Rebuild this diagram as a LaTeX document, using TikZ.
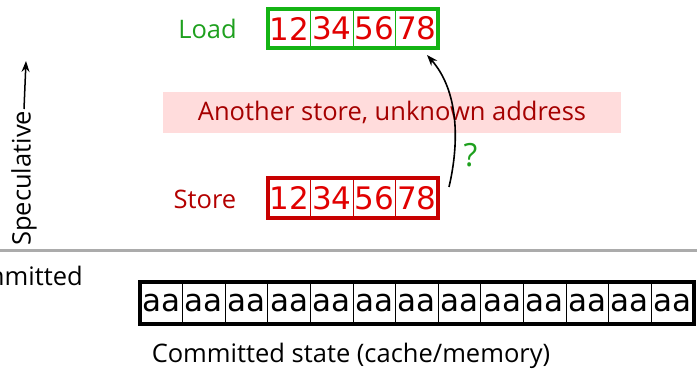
\documentclass[tikz,border=0pt]{standalone}
\usepackage{fontspec}
\setmainfont{Open Sans}
\newfontfamily\cellfont{DejaVu Sans}
\usetikzlibrary{positioning,fit,arrows.meta}

\definecolor{ldgreen}{RGB}{20,180,20}
\definecolor{lblgreen}{RGB}{30,160,30}
\definecolor{stred}{RGB}{200,0,0}
\definecolor{lblred}{RGB}{180,0,0}
\definecolor{digred}{RGB}{225,0,0}
\definecolor{bandpink}{RGB}{255,220,220}
\definecolor{bandred}{RGB}{165,0,0}

\begin{document}
\begin{tikzpicture}[
  x=1pt, y=1pt, >={Stealth[length=11pt,width=8pt]},
  ldcell/.style={draw=ldgreen, line width=0.8pt, minimum width=42.5pt, minimum height=39pt, inner sep=0pt, text=digred, font=\cellfont\fontsize{31}{31}\selectfont},
  stcell/.style={ldcell, draw=stred},
  cmcell/.style={draw=black, line width=0.8pt, minimum width=42.6pt, minimum height=42pt, inner sep=0pt, font=\cellfont\fontsize{31}{31}\selectfont},
  outerbox/.style={line width=4pt, inner sep=0pt},
  every node/.style={font=\fontsize{25.5}{25.5}\selectfont}
]
  \useasboundingbox (0,0) rectangle (697,-374);

  % Load word (green)
  \foreach \i/\t in {1/12,2/34,3/56,4/78} {
    \node[ldcell] (ld\i) at ({246.75+42.5*\i},-28.5) {\t};
  }
  \node[outerbox, draw=ldgreen, fit=(ld1)(ld4)] (ldbox) {};
  \node[text=lblgreen] (ldlbl) at (207.5,-29) {Load};

  % Intervening store, address not known yet
  \node[fill=bandpink, minimum width=458pt, minimum height=41pt, text=bandred] (band) at (392,-112.5) {Another store, unknown address};

  % Store word (red)
  \foreach \i/\t in {1/12,2/34,3/56,4/78} {
    \node[stcell] (st\i) at ({246.75+42.5*\i},-198) {\t};
  }
  \node[outerbox, draw=stred, fit=(st1)(st4)] (stbox) {};
  \node[text=lblred] (stlbl) at (205,-199) {Store};

  % Forwarding arrow
  \coordinate (fwdfrom) at (449,-187);
  \coordinate (fwdto) at (427,-55);
  \draw[->, line width=1.6pt] (fwdfrom) .. controls (460,-140) and (458,-90) .. (fwdto);
  \node[text=lblgreen, font=\fontsize{32}{32}\selectfont] (qmark) at (470.5,-155) {?};

  % Speculative axis
  \node[rotate=90, anchor=west, inner sep=0pt] (spec) at (24,-246) {Speculative};
  \coordinate (specend) at (26,-61);
  \draw[->, line width=1.5pt] (spec.east |- 0,-109) -- (specend);

  % Divider between speculative and committed
  \draw[black!33, line width=3pt] (0,-251) -- (697,-251);
  \node[anchor=east, inner sep=0pt] (cmlbl) at (83,-276) {Committed};

  % Committed state
  \foreach \i in {1,...,13} {
    \node[cmcell] (cm\i) at ({118.7+42.6*\i},-303) {aa};
  }
  \node[outerbox, draw=black, fit=(cm1)(cm13)] (cmbox) {};
  \node (cmtext) at (351,-356) {Committed state (cache/memory)};
\end{tikzpicture}
\end{document}
